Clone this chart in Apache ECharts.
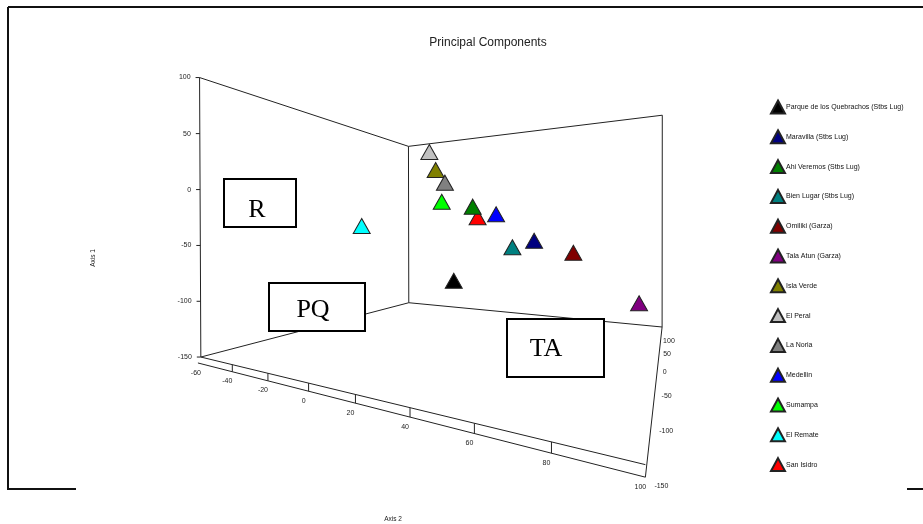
<!DOCTYPE html>
<html><head><meta charset="utf-8">
<script src="https://cdn.jsdelivr.net/npm/echarts@6/dist/echarts.min.js"></script>
<style>html,body{margin:0;padding:0;background:#fff}#c{width:923px;height:524px}</style>
</head><body><div id="c"></div>
<script>
const names = ['Parque de los Quebrachos (Stbs Lug)','Maravilla (Stbs Lug)','Ahi Veremos (Stbs Lug)','Bien Lugar (Stbs Lug)','Omiliki (Garza)','Tala Atun (Garza)','Isla Verde','El Peral','La Noria','Medellin','Sumampa','El Remate','San Isidro'];
const colors = ['#000000','#000080','#008000','#008080','#800000','#800080','#808000','#c0c0c0','#808080','#0000ff','#00ff00','#00ffff','#ff0000'];
// principal component scores
const axis1 = [-84.7, -45.7, -9.5, -51.7, -55.4, -103.6, 34.8, 56.7, 19.3, -22.0, -2.5, -29.5, -24.3];
const axis2 = [22.9, 58.0, 18.0, 49.2, 72.8, 92.9, -3.2, -7.0, 2.3, 42.3, 0.4, -52.7, 34.1];
const axis3 = [-50, -50, 0, -50, -50, 0, 0, 0, 0, -50, 0, 0, -50];
const axis1Ticks = [-150,-100,-50,0,50,100];
const axis2Ticks = [-60,-40,-20,0,20,40,60,80,100];
const axis3Ticks = [100,50,0,-50,-100,-150];

// layout calibration of the 3D box: [axis2, axis3, axis1, px, py]
const CAL = [
 [-60,-150,-150,199,357],[-60,-150,100,199,78],[-60,100,-150,409,303],[-60,100,100,409,147],
 [100,100,-150,662,323],[100,100,100,662,114],[100,-150,-150,645,462],
 [-40,-150,-150,232,364.6],[-20,-150,-150,268,373],[0,-150,-150,309,382.4],[20,-150,-150,356,393.3],
 [40,-150,-150,412,406.2],[60,-150,-150,476,421],[80,-150,-150,552,438.5],
 [100,50,-150,660.2,341],[100,0,-150,658.1,359],[100,-50,-150,655.4,383],[100,-100,-150,651.3,419]
];
function fitCamera(cal){
  const A=[],b=[];
  cal.forEach(([X,Y,Z,u,v])=>{X/=100;Y/=100;Z/=100;
    A.push([X,Y,Z,1,0,0,0,0,-u*X,-u*Y,-u*Z]);b.push(u);
    A.push([0,0,0,0,X,Y,Z,1,-v*X,-v*Y,-v*Z]);b.push(v);});
  const n=11,M=[];for(let i=0;i<n;i++)M.push(new Array(n+1).fill(0));
  for(let r=0;r<A.length;r++)for(let i=0;i<n;i++){for(let j=0;j<n;j++)M[i][j]+=A[r][i]*A[r][j];M[i][n]+=A[r][i]*b[r];}
  for(let c=0;c<n;c++){let p=c;for(let r=c+1;r<n;r++)if(Math.abs(M[r][c])>Math.abs(M[p][c]))p=r;
    const t=M[c];M[c]=M[p];M[p]=t;
    for(let r=0;r<n;r++){if(r===c)continue;const f=M[r][c]/M[c][c];for(let k=c;k<=n;k++)M[r][k]-=f*M[c][k];}}
  return M.map((row,i)=>row[n]/row[i]);
}
const P = fitCamera(CAL);
function proj(X,Y,Z){X/=100;Y/=100;Z/=100;
  const w=P[8]*X+P[9]*Y+P[10]*Z+1;
  return [(P[0]*X+P[1]*Y+P[2]*Z+P[3])/w,(P[4]*X+P[5]*Y+P[6]*Z+P[7])/w];}

const segs=[];
function seg(a,b){const p=proj(...a),q=proj(...b);segs.push([p[0],p[1],q[0],q[1]]);}
const D=6;
seg([-60,-150,-150],[-60,-150,100]);
seg([-60,-150,100],[-60,100,100]);
seg([-60,100,100],[-60,100,-150]);
seg([-60,100,-150],[-60,-150,-150]);
seg([-60,100,100],[100,100,100]);
seg([100,100,100],[100,100,-150]);
seg([-60,100,-150],[100,100,-150]);
seg([-60,-150,-150],[100,-150,-150]);
seg([-62,-150,-150-D],[100,-150,-150-D]);
seg([100,100,-150],[100,-150,-150-D]);
axis2Ticks.slice(1,-1).forEach(t=>seg([t,-150,-150],[t,-150,-150-D]));
axis1Ticks.forEach(t=>{const p=proj(-60,-150,t);segs.push([p[0]-4,p[1],p[0],p[1]]);});
const labels=[];
axis1Ticks.forEach(t=>{const p=proj(-60,-150,t);labels.push([p[0]-9,p[1],String(t),'right']);});
axis2Ticks.forEach(t=>{const p=proj(t,-150,-157);labels.push([p[0]-5,p[1]+8,String(t),'center']);});
axis3Ticks.forEach(t=>{const p=proj(100,t,-150-D);labels.push([p[0]+9-8*(t+150)/250,p[1]+9,String(t),'left']);});

const series = names.map((n,i)=>{const p=proj(axis2[i],axis3[i],axis1[i]);
 return {name:n,type:'scatter',symbol:'triangle',symbolSize:[17,15],z:n==='San Isidro'?3:4,
  itemStyle:{color:colors[i],borderColor:'#222',borderWidth:1,opacity:1},data:[[p[0],p[1]]]};});

series.push({type:'custom',silent:true,z:2,clip:false,encode:{x:[0,2],y:[1,3]},data:segs,
  renderItem(params,api){const a=api.coord([api.value(0),api.value(1)]),b=api.coord([api.value(2),api.value(3)]);
   return {type:'line',shape:{x1:a[0],y1:a[1],x2:b[0],y2:b[1]},style:{stroke:'#222',lineWidth:1}};}});
series.push({type:'custom',silent:true,z:2,clip:false,data:labels.map(l=>[l[0],l[1]]),
  renderItem(params,api){const l=labels[params.dataIndex];const a=api.coord([l[0],l[1]]);
   return {type:'text',x:a[0],y:a[1],style:{text:l[2],align:l[3],verticalAlign:'middle',fontSize:7,fontFamily:'Liberation Sans',fill:'#222'}};}});

function box(x,y,w,h,t,tx,ty){return [
 {type:'rect',z:100,shape:{x:x,y:y,width:w,height:h},style:{fill:'#fff',stroke:'#000',lineWidth:2}},
 {type:'text',z:101,x:tx,y:ty,style:{text:t,fontSize:26,fontFamily:'Liberation Serif',fill:'#000',align:'center',verticalAlign:'middle'}}];}

const chart = echarts.init(document.getElementById('c'),null,{renderer:'canvas'});
chart.setOption({
 animation:false,
 grid:{left:0,right:0,top:0,bottom:0},
 xAxis:{type:'value',min:0,max:923,show:false},
 yAxis:{type:'value',min:0,max:524,inverse:true,show:false},
 legend:{orient:'vertical',left:770,top:99.5,padding:0,itemWidth:14,itemHeight:13,itemGap:14.8,icon:'triangle',data:names,
   textStyle:{fontSize:7,color:'#111',fontFamily:'Liberation Sans',padding:[0,0,0,-4]}},
 graphic:{elements:[
  {type:'line',shape:{x1:8,y1:7,x2:923,y2:7},style:{stroke:'#111',lineWidth:2}},
  {type:'line',shape:{x1:8,y1:7,x2:8,y2:489},style:{stroke:'#111',lineWidth:2}},
  {type:'line',shape:{x1:7,y1:489,x2:76,y2:489},style:{stroke:'#111',lineWidth:2}},
  {type:'line',shape:{x1:907,y1:489,x2:923,y2:489},style:{stroke:'#111',lineWidth:2}},
  {type:'text',x:488,y:43,style:{text:'Principal Components',fontSize:12,fontFamily:'Liberation Sans',fill:'#222',align:'center',verticalAlign:'middle'}},
  {type:'text',x:93,y:258,rotation:Math.PI/2,style:{text:'Axis 1',fontSize:6.5,fontFamily:'Liberation Sans',fill:'#222',align:'center',verticalAlign:'middle'}},
  {type:'text',x:393,y:519,style:{text:'Axis 2',fontSize:6.5,fontFamily:'Liberation Sans',fill:'#222',align:'center',verticalAlign:'middle'}},
  ...box(224,179,72,48,'R',257,210),
  ...box(269,283,96,48,'PQ',313,310),
  ...box(507,319,97,58,'TA',546,349)
 ]},
 series:series
});
</script></body></html>
